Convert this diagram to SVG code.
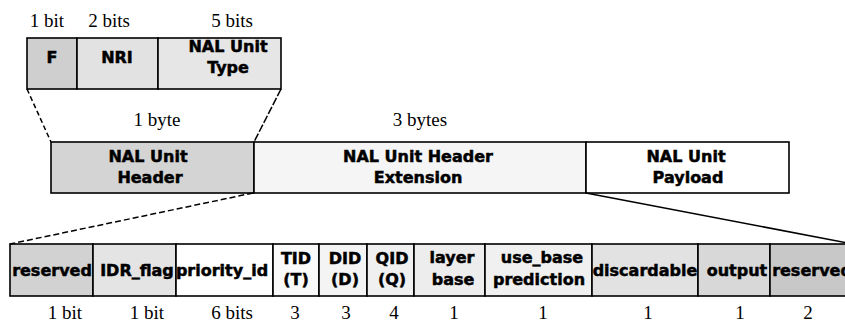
<svg xmlns="http://www.w3.org/2000/svg" width="845" height="327" viewBox="0 0 845 327">
<style>
.box{stroke:#000;stroke-width:1.6}
.b{font-family:"DejaVu Sans","Liberation Sans",sans-serif;font-weight:bold;font-size:16px;text-anchor:middle;fill:#000;stroke:#000;stroke-width:0.5}
.s{font-family:"Liberation Serif","Times New Roman",serif;font-size:19px;text-anchor:middle;fill:#000}
.c{stroke:#000;stroke-width:1.5;fill:none}
</style>
<rect width="845" height="327" fill="#fff"/>
<g id="top-labels">
<text class="s" x="47" y="27" font-size="18">1 bit</text>
<text class="s" x="109" y="27" font-size="18">2 bits</text>
<text class="s" x="232" y="27" font-size="18">5 bits</text>
</g>
<g id="F"><rect class="box" x="27" y="38" width="50" height="51" fill="#cfcfcf"/><text class="b" x="52" y="63" font-size="14">F</text></g>
<g id="NRI"><rect class="box" x="77" y="38" width="81" height="51" fill="#e2e2e2"/><text class="b" x="117" y="63" font-size="14">NRI</text></g>
<g id="NALType"><rect class="box" x="158" y="38" width="123" height="51" fill="#e6e6e6"/><text class="b" x="228" y="52">NAL Unit</text><text class="b" x="228" y="73">Type</text></g>
<g id="mid-labels">
<text class="s" x="157" y="126" font-size="20">1 byte</text>
<text class="s" x="420" y="126" font-size="20">3 bytes</text>
</g>
<g id="NALHeader"><rect class="box" x="51" y="142" width="203" height="51" fill="#d4d4d4"/><text class="b" x="148" y="162">NAL Unit</text><text class="b" x="150" y="183">Header</text></g>
<g id="NALExt"><rect class="box" x="254" y="142" width="332" height="51" fill="#f5f5f5"/><text class="b" x="418" y="162">NAL Unit Header</text><text class="b" x="418" y="183">Extension</text></g>
<g id="NALPayload"><rect class="box" x="586" y="142" width="203" height="51" fill="#fff"/><text class="b" x="686" y="162">NAL Unit</text><text class="b" x="688" y="183">Payload</text></g>
<g id="reserved1"><rect class="box" x="10" y="244" width="83" height="52" fill="#d2d2d2"/><text class="b" x="52" y="276">reserved</text></g>
<g id="IDR_flag"><rect class="box" x="93" y="244" width="83" height="52" fill="#e4e4e4"/><text class="b" x="137" y="276">IDR_flag</text></g>
<g id="priority_id"><rect class="box" x="176" y="244" width="97" height="52" fill="#fff"/><text class="b" x="222" y="276">priority_id</text></g>
<g id="TID"><rect class="box" x="273" y="244" width="46" height="52" fill="#fafafa"/><text class="b" x="296" y="264">TID</text><text class="b" x="296" y="285">(T)</text></g>
<g id="DID"><rect class="box" x="319" y="244" width="48" height="52" fill="#f4f4f4"/><text class="b" x="345" y="264">DID</text><text class="b" x="345" y="285">(D)</text></g>
<g id="QID"><rect class="box" x="367" y="244" width="47" height="52" fill="#f0f0f0"/><text class="b" x="392" y="264">QID</text><text class="b" x="392" y="285">(Q)</text></g>
<g id="layer_base"><rect class="box" x="414" y="244" width="71" height="52" fill="#ededed"/><text class="b" x="452" y="263">layer</text><text class="b" x="453" y="285">base</text></g>
<g id="use_base"><rect class="box" x="485" y="244" width="107" height="52" fill="#f0f0f0"/><text class="b" x="542" y="263">use_base</text><text class="b" x="539" y="285">prediction</text></g>
<g id="discardable"><rect class="box" x="592" y="244" width="106" height="52" fill="#e2e2e2"/><text class="b" x="645" y="276">discardable</text></g>
<g id="output"><rect class="box" x="698" y="244" width="72" height="52" fill="#d8d8d8"/><text class="b" x="737" y="276">output</text></g>
<g id="reserved2"><rect class="box" x="770" y="244" width="83" height="52" fill="#c8c8c8"/><text class="b" x="812" y="276">reserved</text></g>
<g id="bottom-labels">
<text class="s" x="65" y="319">1 bit</text>
<text class="s" x="147" y="319">1 bit</text>
<text class="s" x="232" y="319">6 bits</text>
<text class="s" x="295" y="319">3</text>
<text class="s" x="346" y="319">3</text>
<text class="s" x="394" y="319">4</text>
<text class="s" x="454" y="319">1</text>
<text class="s" x="543" y="319">1</text>
<text class="s" x="648" y="319">1</text>
<text class="s" x="740" y="319">1</text>
<text class="s" x="808" y="319">2</text>
</g>
<g id="connectors">
<line class="c" x1="27" y1="89" x2="51" y2="142" stroke-dasharray="5,3"/>
<line class="c" x1="281" y1="89" x2="254" y2="142" stroke-dasharray="8,2"/>
<line class="c" x1="253" y1="193" x2="10" y2="244" stroke-dasharray="6,3"/>
<line class="c" x1="586" y1="193" x2="853" y2="244"/>
</g>
</svg>
